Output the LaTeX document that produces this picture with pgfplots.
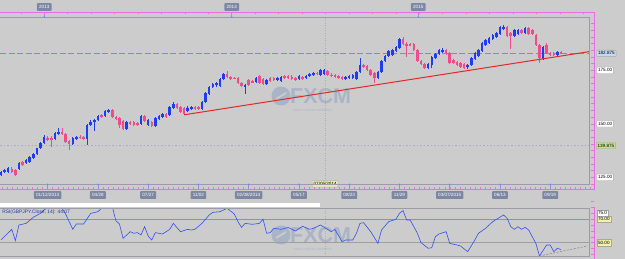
\documentclass[border=0pt]{standalone}
\usepackage{pgfplots}
\pgfplotsset{compat=1.18}
\usepackage{pgfplotstable}
\usepackage{fontspec}
\setmainfont{Liberation Sans}
\setsansfont{Liberation Sans}
\definecolor{bg}{HTML}{CCCCCC}
\definecolor{upc}{HTML}{1E3CF0}
\definecolor{dnc}{HTML}{F04C8C}
\definecolor{trend}{HTML}{E8262A}
\definecolor{pinkax}{HTML}{EE6AE8}
\definecolor{framec}{HTML}{9C9CA8}
\definecolor{slate}{HTML}{7C88A2}
\definecolor{pricebox}{HTML}{C2D9F2}
\definecolor{crossbox}{HTML}{C6DE8A}
\definecolor{datebox}{HTML}{E4EEB0}
\definecolor{yel}{HTML}{F2F2A6}
\definecolor{crossc}{HTML}{A9A9D6}
\definecolor{dashc}{HTML}{4E9CF8}
\definecolor{rsiline}{HTML}{3350EE}
\definecolor{wm}{HTML}{A9B4C6}

\pgfplotstableread{
i o h l c
0 126.1 127.8 125.7 127.3
1 127.4 128.8 127.0 128.4
2 127.7 129.7 127.2 129.2
3 129.0 129.6 127.1 127.4
4 128.4 128.9 125.8 126.2
5 128.9 132.3 128.4 131.8
6 132.3 132.8 130.3 130.7
7 131.5 133.4 131.0 132.9
8 132.3 135.0 131.9 134.6
9 134.0 136.2 133.6 135.7
10 135.7 138.9 135.3 138.5
11 138.5 141.6 138.0 141.2
12 141.2 144.6 140.7 144.0
13 143.5 144.5 142.0 142.4
14 143.5 144.2 139.0 142.5
15 142.9 146.0 142.4 145.6
16 145.1 147.9 144.6 146.3
17 146.3 147.9 144.6 145.0
18 145.1 145.7 141.0 141.6
19 142.0 142.6 137.8 140.4
20 140.4 143.7 140.0 143.2
21 142.9 144.5 142.4 144.0
22 144.0 144.6 142.8 143.3
23 144.0 144.5 142.4 143.0
24 143.0 149.9 140.0 149.4
25 149.4 152.0 149.0 151.0
26 151.0 152.3 146.6 151.8
27 151.8 154.3 151.3 153.8
28 154.1 154.6 152.5 153.0
29 153.8 156.6 153.3 156.1
30 155.7 157.0 155.2 156.4
31 156.4 156.9 152.8 153.3
32 153.3 153.8 151.7 152.2
33 152.8 153.3 147.9 149.4
34 151.3 151.8 146.9 147.4
35 147.4 151.2 146.9 150.7
36 151.0 151.5 149.4 149.9
37 150.7 151.2 149.0 149.5
38 150.5 151.0 149.0 149.5
39 149.9 154.0 149.4 153.5
40 153.6 154.1 150.8 151.3
41 149.6 152.3 149.0 151.8
42 151.0 151.5 148.3 148.8
43 148.8 153.1 148.3 152.6
44 152.4 154.1 151.9 153.6
45 153.0 154.9 152.5 154.4
46 154.4 154.9 152.7 153.2
47 154.0 158.5 153.5 158.0
48 157.5 160.0 157.0 159.1
49 159.1 159.6 157.0 157.5
50 158.0 158.5 155.1 155.6
51 157.2 157.7 154.2 154.5
52 156.2 158.1 155.7 157.6
53 157.0 158.5 156.5 158.0
54 158.0 158.5 156.4 156.9
55 158.0 158.5 156.4 156.9
56 156.8 160.8 156.3 160.3
57 160.3 164.8 159.8 164.3
58 163.8 167.8 163.3 167.3
59 167.3 169.0 166.8 168.5
60 168.0 169.5 167.3 169.0
61 167.8 171.4 167.3 170.9
62 170.9 173.6 170.4 173.1
63 173.1 174.7 171.5 172.0
64 172.0 172.5 170.4 170.9
65 171.5 172.0 170.7 171.2
66 171.5 172.0 168.5 169.0
67 169.0 169.5 167.3 167.8
68 167.3 168.6 163.8 168.1
69 170.5 171.0 167.6 168.3
70 170.0 170.5 168.9 169.4
71 169.7 172.0 169.2 171.5
72 172.5 173.0 168.5 169.0
73 171.0 171.5 168.0 168.5
74 168.5 171.0 168.0 170.5
75 171.3 171.8 169.5 170.0
76 171.3 171.8 170.0 170.5
77 170.5 171.8 170.0 171.3
78 170.0 172.5 169.5 172.0
79 172.5 173.0 171.0 171.5
80 172.5 173.0 171.0 171.5
81 172.0 172.8 170.4 170.9
82 171.5 172.0 170.0 170.5
83 170.9 173.0 170.4 172.5
84 171.7 172.2 170.3 170.8
85 171.5 173.0 171.0 172.5
86 172.3 173.6 171.8 173.1
87 173.0 174.1 172.5 173.6
88 173.9 174.4 172.6 173.1
89 172.8 175.6 172.3 175.1
90 173.3 175.6 172.8 175.1
91 174.5 175.0 172.5 173.0
92 173.0 173.5 171.8 172.3
93 172.8 173.3 171.5 172.0
94 172.5 173.0 170.7 171.2
95 172.0 172.5 170.4 170.9
96 170.9 172.5 170.4 172.0
97 171.5 173.0 171.0 172.5
98 171.2 173.3 170.7 172.8
99 170.9 174.8 170.4 174.3
100 174.1 180.6 173.6 177.5
101 177.5 178.0 176.2 176.7
102 177.2 177.7 174.6 175.1
103 175.1 175.6 172.3 172.8
104 173.6 174.1 169.0 171.5
105 171.5 174.6 171.0 174.1
106 174.1 179.8 173.6 179.3
107 179.3 182.3 178.8 181.8
108 181.8 184.5 181.3 184.0
109 182.2 185.0 181.7 184.5
110 184.0 186.5 183.5 186.0
111 185.3 190.1 184.8 189.6
112 189.6 190.4 186.6 187.1
113 187.5 188.0 181.4 186.5
114 187.1 187.6 186.3 186.8
115 187.1 187.6 184.0 184.5
116 184.5 185.0 178.8 179.3
117 179.3 179.8 177.3 177.8
118 177.8 178.3 175.7 176.2
119 176.2 178.3 175.7 177.8
120 177.5 181.9 175.9 181.4
121 180.9 183.0 180.4 182.5
122 182.5 184.8 182.0 184.3
123 183.8 185.3 183.3 184.6
124 184.3 184.8 182.1 182.9
125 182.9 183.4 178.1 178.6
126 179.8 180.3 177.8 178.3
127 179.0 179.5 177.0 177.5
128 178.3 178.8 176.2 176.7
129 177.9 178.4 175.7 176.2
130 176.7 178.0 175.5 177.5
131 177.5 181.1 177.0 180.6
132 180.1 183.4 179.6 182.9
133 181.7 185.0 181.2 184.5
134 184.2 188.1 183.7 187.6
135 186.8 189.7 186.3 189.2
136 187.9 190.4 187.4 189.9
137 189.5 192.0 189.0 191.5
138 190.7 192.8 190.2 192.3
139 192.0 195.6 191.5 195.1
140 194.6 196.0 193.8 195.1
141 195.1 195.6 190.5 191.0
142 192.3 192.8 184.8 191.0
143 191.0 194.3 190.5 193.8
144 192.0 194.3 191.5 193.8
145 193.8 194.3 191.8 192.3
146 192.3 195.1 191.8 194.6
147 194.6 195.1 191.5 192.0
148 194.0 194.5 191.5 192.0
149 191.5 192.0 186.3 186.8
150 186.8 187.3 178.5 180.6
151 180.1 186.5 179.6 186.0
152 186.8 187.9 182.4 182.9
153 182.9 183.4 181.6 182.1
154 183.0 183.5 181.5 182.0
155 182.1 184.2 181.6 183.7
156 183.4 183.9 182.4 182.9
}\ohlc

\pgfplotstableread{
i r
0 52.3
3 61.4
4 51.7
5 65.1
7 66.5
9 71.7
11 75.1
12 77.9
14 82.0
16 84.0
18 74.5
20 61.4
21 66.0
23 66.0
25 75.1
27 76.5
28 79.4
29 82.0
31 80.8
32 68.8
33 66.0
34 53.7
36 59.4
37 58.0
38 58.6
39 56.6
40 63.7
41 55.7
42 52.3
43 58.6
45 57.4
47 61.4
48 66.5
50 59.4
52 61.4
53 60.8
54 61.4
56 66.5
58 73.7
59 75.9
61 76.5
63 79.4
65 74.5
66 68.0
67 63.1
68 66.5
70 65.7
72 66.5
73 70.0
74 58.0
75 58.6
76 62.3
78 61.4
80 63.0
82 60.0
84 64.0
86 61.4
87 62.3
89 65.1
92 59.4
93 61.4
95 50.9
96 52.3
98 52.3
99 58.0
100 66.5
101 67.1
103 59.4
105 49.4
106 60.8
108 68.0
110 70.0
111 75.1
112 77.4
113 69.4
114 69.4
116 58.0
117 50.0
119 45.2
120 45.7
121 55.1
122 57.4
124 59.4
125 49.4
127 48.0
128 47.2
130 42.3
132 52.3
133 58.0
135 62.3
137 68.0
138 70.0
140 73.7
141 70.8
142 63.7
143 61.4
144 63.7
145 61.4
146 63.1
147 60.8
149 49.4
150 38.6
152 48.0
153 48.0
154 42.3
155 45.2
156 44.07
}\rsi

\pgfplotsset{
  wick/.style={draw=none, mark=none, error bars/.cd, y dir=both, y explicit, error mark=none,
     error bar style={line width=0.7pt, draw=#1}},
  body/.style={draw=none, mark=none, error bars/.cd, y dir=both, y explicit, error mark=none,
     error bar style={line width=2.5pt, draw=#1}},
}
\newcommand{\lab}{\fontsize{4.6}{5}\selectfont}

\begin{document}
\begin{tikzpicture}[x=1pt,y=1pt]
\useasboundingbox (0,0) rectangle (625,259);
\fill[bg] (0,0) rectangle (625,259);
% watermarks
\fill[wm] (281,163) circle (9.5);
\fill[bg] (276,161) -- (286,167) -- (286,165) -- (276,159) -- cycle;
\node[text=wm, font=\fontsize{21.5}{21}\selectfont\bfseries, anchor=west, inner sep=0pt] at (290,163) {FXCM};
\node[text=wm, font=\fontsize{3}{3}\selectfont, anchor=west, inner sep=0pt] at (293,149) {FOREX CAPITAL MARKETS};
\fill[wm] (281,24) circle (9.5);
\fill[bg] (276,22) -- (286,28) -- (286,26) -- (276,20) -- cycle;
\node[text=wm, font=\fontsize{21.5}{21}\selectfont\bfseries, anchor=west, inner sep=0pt] at (290,24) {FXCM};
\node[text=wm, font=\fontsize{3}{3}\selectfont, anchor=west, inner sep=0pt] at (293,10) {FOREX CAPITAL MARKETS};
% white strip
\fill[white] (0,51.7) rectangle (320,56.3);

% ---------- main price axis
\begin{axis}[
  at={(0pt,75pt)}, anchor=south west,
  width=589pt, height=167pt, scale only axis,
  xmin=-0.28, xmax=163.8, ymin=121.87, ymax=199.9,
  axis line style={draw=none},
  clip mode=individual,
  ytick=\empty,
  xtick={13,27,41,55,69,83,97,111,125,139,153},
  xticklabels={01/12/2013,04/28,07/27,11/02,02/08/2014,05/17,08/23,11/29,03/07/2015,06/13,09/19},
  major tick length=0pt,
  xticklabel style={fill=slate, text=white, font=\lab, inner xsep=2.2pt, inner ysep=2pt,
     text height=3.4pt, text depth=0.4pt, yshift=-7pt, rounded corners=0.8pt},
]
\addplot[crossc, line width=0.5pt, dash pattern=on 1.5pt off 2pt] coordinates {(-0.28,139.875) (163.8,139.875)};
\addplot[crossc, line width=0.5pt, dash pattern=on 1pt off 1.5pt] coordinates {(90.3,121.87) (90.3,199.9)};
\addplot[dashc, line width=0.75pt, dash pattern=on 6pt off 2.5pt] coordinates {(-0.28,182.875) (163.8,182.875)};
\addplot[wick=upc] table[x=i, y expr={ifthenelse(\thisrow{c}>=\thisrow{o},(\thisrow{h}+\thisrow{l})/2,400)}, y error expr={(\thisrow{h}-\thisrow{l})/2}] {\ohlc};
\addplot[wick=dnc] table[x=i, y expr={ifthenelse(\thisrow{c}<\thisrow{o},(\thisrow{h}+\thisrow{l})/2,400)}, y error expr={(\thisrow{h}-\thisrow{l})/2}] {\ohlc};
\addplot[body=upc] table[x=i, y expr={ifthenelse(\thisrow{c}>=\thisrow{o},(\thisrow{o}+\thisrow{c})/2,400)}, y error expr={max(abs(\thisrow{c}-\thisrow{o})/2,0.25)}] {\ohlc};
\addplot[body=dnc] table[x=i, y expr={ifthenelse(\thisrow{c}<\thisrow{o},(\thisrow{o}+\thisrow{c})/2,400)}, y error expr={max(abs(\thisrow{c}-\thisrow{o})/2,0.25)}] {\ohlc};
\addplot[trend, line width=1pt] coordinates {(51,154.2) (163.8,183.7)};
% right labels
\node[anchor=west, fill=pricebox, draw=gray!70, rounded corners=0.8pt, inner sep=1.4pt, font=\lab, text height=3.4pt, text depth=0.3pt] at (axis cs:163.8,182.875) [xshift=7.5pt] {182.875};
\node[anchor=west, fill=white, draw=gray!70, rounded corners=0.8pt, inner sep=1.4pt, font=\lab, text height=3.4pt, text depth=0.3pt] at (axis cs:163.8,175) [xshift=7.5pt] {175.00};
\node[anchor=west, fill=white, draw=gray!70, rounded corners=0.8pt, inner sep=1.4pt, font=\lab, text height=3.4pt, text depth=0.3pt] at (axis cs:163.8,150) [xshift=7.5pt] {150.00};
\node[anchor=west, fill=crossbox, draw=gray!70, rounded corners=0.8pt, inner sep=1.4pt, font=\lab, text height=3.4pt, text depth=0.3pt] at (axis cs:163.8,139.875) [xshift=7pt] {139.875};
\node[anchor=west, fill=white, draw=gray!70, rounded corners=0.8pt, inner sep=1.4pt, font=\lab, text height=3.4pt, text depth=0.3pt] at (axis cs:163.8,125) [xshift=7.5pt] {125.00};
\node[fill=datebox, draw=gray!60, rounded corners=0.8pt, inner sep=1.4pt, font=\lab, text height=3.4pt, text depth=0.4pt] at (axis cs:90.3,121.87) [yshift=0.3pt] {07/05/2014};
\end{axis}

% ---------- RSI axis
\begin{axis}[
  at={(0pt,2.3pt)}, anchor=south west,
  width=589pt, height=48.4pt, scale only axis,
  xmin=-0.28, xmax=163.8, ymin=38.0, ymax=79.4,
  axis line style={draw=none},
  clip mode=individual,
  xtick=\empty, ytick=\empty,
]
\addplot[red!60!white, line width=0.6pt] coordinates {(-0.28,70) (163.8,70)};
\addplot[gray!75, line width=0.5pt] coordinates {(-0.28,50) (163.8,50)};
\addplot[crossc, line width=0.5pt, dash pattern=on 1pt off 1.5pt] coordinates {(90.3,38) (90.3,79.4)};
\addplot[rsiline, line width=0.6pt] table[x=i, y=r] {\rsi};
\addplot[gray, line width=0.5pt, dash pattern=on 2pt off 1.5pt] coordinates {(150,38.6) (163.5,47.3)};
\node[anchor=west, fill=white, draw=gray!70, inner sep=1.4pt, font=\lab, text height=3.4pt, text depth=0.3pt] at (axis cs:163.8,75) [xshift=7.5pt] {75.0};
\node[anchor=west, fill=yel, draw=gray!70, inner sep=1.4pt, font=\lab, text height=3.4pt, text depth=0.3pt] at (axis cs:163.8,70) [xshift=7.5pt] {70.00};
\node[anchor=west, fill=yel, draw=gray!70, inner sep=1.4pt, font=\lab, text height=3.4pt, text depth=0.3pt] at (axis cs:163.8,50) [xshift=7.5pt] {50.00};
\node[anchor=west, text=rsiline!70!black, font=\fontsize{4.9}{5}\selectfont, inner sep=0pt] at (axis cs:0.3,76.3) {RSI(GBPJPY.Close, 14): 44.07};
\end{axis}

% frames
\draw[framec, line width=0.6pt] (0,242) -- (589,242) -- (589,75) -- (0,75);
\draw[pinkax, line width=0.6pt] (0,246.3) -- (594,246.3) -- (594,69.7) -- (0,69.7);
\draw[framec, line width=0.6pt] (0,50.7) -- (589,50.7) -- (589,2.3) -- (0,2.3);
\draw[pinkax, line width=0.6pt] (594,51.5) -- (594,0);
% top band ticks
\foreach \k in {-1,...,23} {\draw[pinkax, line width=0.5pt] ({44.3+23.43*\k},246.3) -- ++(0,-1.6);}
\foreach \xx/\yy in {44.3/2013, 231.7/2014, 418.3/2015} {
  \draw[pinkax, line width=0.6pt] (\xx,246.3) -- (\xx,242);
  \fill[dashc] (\xx,242) circle (0.9);
  \node[fill=slate, text=white, font=\lab, inner xsep=2.2pt, inner ysep=2pt, text height=3.4pt, text depth=0.2pt, rounded corners=0.8pt] at (\xx,252) {\yy};
}
% bottom band ticks
\foreach \k in {-9,...,108} {\draw[pinkax, line width=0.5pt] ({47.7+5.026*\k},69.7) -- ++(0,1.8);}
\foreach \k in {0,...,10} {
  \draw[pinkax!60!dashc, line width=0.6pt] ({47.7+50.26*\k},75) -- ({47.7+50.26*\k},69.7);
  \fill[dashc] ({47.7+50.26*\k},74.6) circle (0.9);
}
% right axis ticks
\foreach \k in {0,...,24} {\draw[pinkax, line width=0.5pt] (594,{75+(121.875+3.125*\k-121.87)*2.1402}) -- ++(-3.5,0);}
\foreach \k in {0,...,9} {\draw[pinkax, line width=0.5pt] (594,{2.3+(40+5*\k-38)*1.1691}) -- ++(-3.5,0);}
\end{tikzpicture}
\end{document}
